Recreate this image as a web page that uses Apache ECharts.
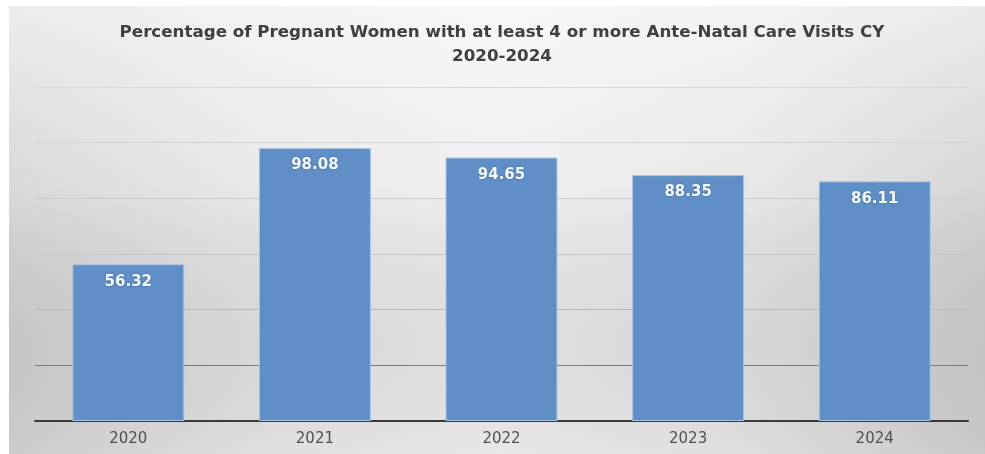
<!DOCTYPE html>
<html>
<head>
<meta charset="utf-8">
<script src="https://cdn.jsdelivr.net/npm/echarts@6/dist/echarts.min.js"></script>
<style>html,body{margin:0;padding:0;background:#fff}#c{width:985px;height:454px}</style>
</head>
<body>
<div id="c"></div>
<script>
const categories = ['2020', '2021', '2022', '2023', '2024'];
const values = [56.32, 98.08, 94.65, 88.35, 86.11];
const titleLines = ['Percentage of Pregnant Women with at least 4 or more Ante-Natal Care Visits CY', '2020-2024'];

const chart = echarts.init(document.getElementById('c'), null, {renderer: 'canvas'});
chart.setOption({
  animation: false,
  backgroundColor: '#ffffff',
  graphic: [{
    type: 'rect', z: -101, silent: true,
    shape: {x: 9, y: 6, width: 976, height: 448},
    style: {
      fill: new echarts.graphic.LinearGradient(0, 0, 1, 0, [
        {offset: 0, color: '#d0d0d0'},
        {offset: 0.25, color: '#e3e3e3'},
        {offset: 0.5, color: '#ececec'},
        {offset: 0.75, color: '#e3e3e3'},
        {offset: 1, color: '#cdcdcd'}
      ])
    }
  }, {
    type: 'rect', z: -100, silent: true,
    shape: {x: 9, y: 6, width: 976, height: 448},
    style: {
      fill: new echarts.graphic.LinearGradient(0, 0, 0, 1, [
        {offset: 0, color: 'rgba(255,255,255,0.6)'},
        {offset: 0.4, color: 'rgba(255,255,255,0.2)'},
        {offset: 1, color: 'rgba(0,0,0,0.02)'}
      ])
    }
  }],
  title: {
    text: titleLines.join('\n'),
    left: 497, top: 16, textAlign: 'center',
    textStyle: {fontFamily: 'DejaVu Sans', fontWeight: 'bold', fontSize: 16.7, color: '#404040', lineHeight: 24}
  },
  grid: {left: 35, right: 17, top: 87, bottom: 33, containLabel: false},
  xAxis: {
    type: 'category', data: categories,
    axisLine: {lineStyle: {color: '#3a3a3a', width: 2}},
    axisTick: {show: false},
    axisLabel: {color: '#505050', fontFamily: 'DejaVu Sans', fontSize: 15, margin: 11}
  },
  yAxis: {
    type: 'value', min: 0, max: 120, interval: 20,
    axisLabel: {show: false}, axisLine: {show: false}, axisTick: {show: false},
    splitLine: {lineStyle: {color: ['#3a3a3a', '#7a7a7a', '#b8b8b8', '#c4c4c4', '#cacaca', '#d2d2d2', '#d8d8d8'], width: 1}}
  },
  series: [{
    type: 'bar', data: values, barWidth: '60%',
    itemStyle: {color: '#5f8fc6', borderColor: '#a9c4e4', borderWidth: 1},
    label: {
      show: true, position: 'insideTop', distance: 10,
      color: '#f4f8ff', fontFamily: 'DejaVu Sans', fontWeight: 'bold', fontSize: 15,
      textShadowColor: 'rgba(0,0,0,0.3)', textShadowBlur: 2,
      formatter: p => p.value.toFixed(2)
    }
  }]
});
</script>
</body>
</html>
